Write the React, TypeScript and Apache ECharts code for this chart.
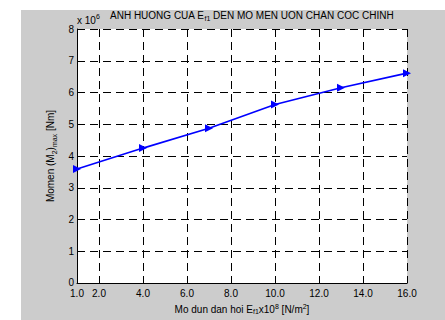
import React, { useEffect, useRef } from "react";
import * as echarts from "echarts";

const xValues = [1, 4, 7, 10, 13, 16];
const momentValues = [3.59e6, 4.25e6, 4.875e6, 5.625e6, 6.15e6, 6.61e6];
const xTickValues = [1, 2, 4, 6, 8, 10, 12, 14, 16];
const yMin = 0;
const yMax = 8e6;
const yStep = 1e6;

const FONT = "'Liberation Sans', Arial, sans-serif";

export default function App() {
  const ref = useRef<HTMLDivElement>(null);
  useEffect(() => {
    if (!ref.current) return;
    const chart = echarts.init(ref.current, null, { renderer: "svg" });
    const dash = [8, 5];
    const base = { color: "#000", fontFamily: FONT, fontWeight: "normal" };
    const option: any = {
      animation: false,
      backgroundColor: "#cccccc",
      textStyle: { fontFamily: FONT },
      graphic: [
        {
          type: "polygon",
          shape: { points: [[0, 0], [445, 0], [445, 10], [21, 10], [21, 320], [0, 320]] },
          style: { fill: "#ffffff" },
          silent: true,
          z: 100,
        },
        {
          type: "text",
          x: 77,
          y: 13,
          z: 10,
          style: {
            text: "{a|x 10}{p|6}",
            fontFamily: FONT,
            rich: {
              a: { fontSize: 10, lineHeight: 12, verticalAlign: "bottom", fill: "#000", fontFamily: FONT },
              p: { fontSize: 7, lineHeight: 9, verticalAlign: "top", fill: "#000", fontFamily: FONT },
            },
          },
        },
      ],
      title: {
        text: "{a|ANH HUONG CUA E}{s|f1}{a| DEN MO MEN UON CHAN COC CHINH}",
        left: 110,
        top: 10,
        padding: 0,
        textStyle: {
          fontFamily: FONT,
          fontWeight: "normal",
          rich: {
            a: { ...base, fontSize: 10, lineHeight: 12, verticalAlign: "top" },
            s: { ...base, fontSize: 7, lineHeight: 8, verticalAlign: "bottom" },
          },
        },
      },
      grid: {
        left: 77,
        top: 29,
        width: 330,
        height: 256,
        show: true,
        backgroundColor: "#ffffff",
        borderWidth: 0,
        containLabel: false,
      },
      xAxis: {
        type: "value",
        min: 1,
        max: 16,
        name: "{a|Mo dun dan hoi E}{s|f1}{a|x10}{p|8}{a| [N/m}{p|2}{a|]}",
        nameLocation: "middle",
        nameGap: 14,
        nameTextStyle: {
          fontFamily: FONT,
          rich: {
            a: { ...base, fontSize: 10, lineHeight: 12, verticalAlign: "middle" },
            s: { ...base, fontSize: 7, lineHeight: 8, verticalAlign: "bottom" },
            p: { ...base, fontSize: 7, lineHeight: 10, verticalAlign: "top" },
          },
        },
        axisLine: { show: true, onZero: false, lineStyle: { color: "#000", width: 1 } },
        axisTick: { show: true, inside: true, length: 5, customValues: xTickValues, lineStyle: { color: "#000" } },
        axisLabel: {
          customValues: xTickValues,
          formatter: (v: number) => v.toFixed(1),
          margin: 6,
          fontSize: 10,
          lineHeight: 8,
          color: "#000",
          fontFamily: FONT,
          showMinLabel: true,
          showMaxLabel: true,
        },
        splitLine: { show: true, lineStyle: { color: "#000", width: 1, type: dash } },
      },
      yAxis: {
        type: "value",
        min: yMin,
        max: yMax,
        interval: yStep,
        name: "{a|Momen (M}{s|2}{a|)}{s|max}{a| [Nm]}",
        nameLocation: "middle",
        nameRotate: 90,
        nameGap: 11,
        nameTextStyle: {
          fontFamily: FONT,
          rich: {
            a: { ...base, fontSize: 10, lineHeight: 12, verticalAlign: "top" },
            s: { ...base, fontSize: 7, lineHeight: 8, verticalAlign: "bottom" },
          },
        },
        axisLine: { show: true, onZero: false, lineStyle: { color: "#000", width: 1 } },
        axisTick: { show: true, inside: true, length: 5, lineStyle: { color: "#000" } },
        axisLabel: {
          formatter: (v: number) => (v === 0 ? "{z|0}" : String(Math.round(v / 1e6))),
          margin: 3,
          fontSize: 10,
          lineHeight: 8,
          color: "#000",
          fontFamily: FONT,
          rich: {
            z: { ...base, fontSize: 10, lineHeight: 8, padding: [0, 0, 2, 0] },
          },
        },
        splitLine: { show: true, lineStyle: { color: "#000", width: 1, type: dash } },
      },
      series: [
        {
          type: "line",
          data: xValues.map((x, i) => [x, momentValues[i]]),
          symbol: "triangle",
          symbolSize: 8,
          symbolRotate: -90,
          showAllSymbol: true,
          clip: false,
          lineStyle: { color: "#0000ff", width: 1.6 },
          itemStyle: { color: "#0000ff" },
          z: 5,
        },
      ],
    };
    chart.setOption(option);
    return () => chart.dispose();
  }, []);
  return (
    <div style={{ position: "fixed", left: 0, top: 0, width: 445, height: 320, background: "#ffffff", overflow: "hidden" }}>
      <div style={{ position: "absolute", left: 21, top: 10, width: 424, height: 310, background: "#cccccc" }} />
      <div ref={ref} style={{ position: "absolute", left: 0, top: 0, width: 445, height: 320, background: "#cccccc" }} />
    </div>
  );
}
